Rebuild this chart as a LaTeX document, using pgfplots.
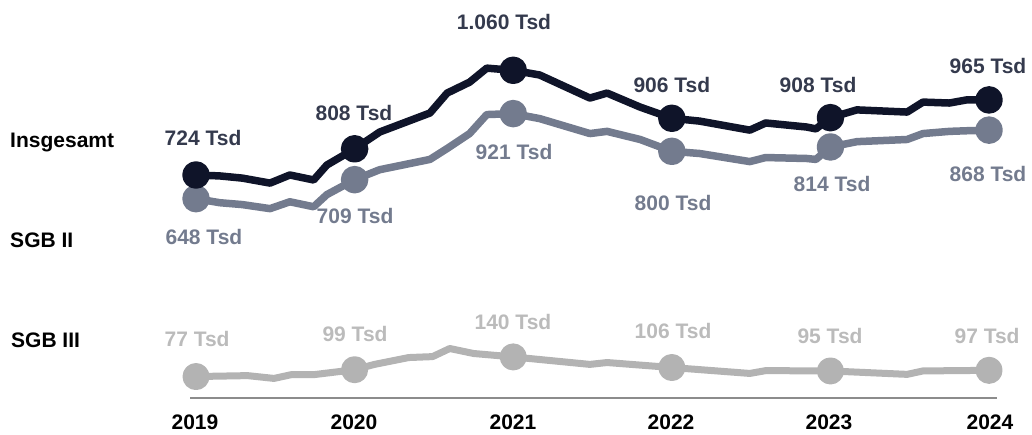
\documentclass[border=0pt]{standalone}
\usepackage{fontspec}
\setmainfont{Liberation Sans}
\usepackage{pgfplots}
\pgfplotsset{compat=1.18}
\definecolor{cTot}{HTML}{0F1429}
\definecolor{cTotTxt}{HTML}{343A4D}
\definecolor{cII}{HTML}{737B8E}
\definecolor{cIII}{HTML}{B3B3B3}
\definecolor{cIIITxt}{HTML}{BBBBBB}
\definecolor{cBase}{HTML}{8C8C8C}
\begin{document}
\begin{tikzpicture}
\begin{axis}[
  scale only axis, width=1032pt, height=435pt,
  xmin=-14.83, xmax=63.25, ymin=-110.6, ymax=1285.75,
  hide axis, clip=false,
  line join=round, line cap=round,
  nodes={font=\fontsize{21}{25}\selectfont\bfseries},
]
\path (rel axis cs:0,0) rectangle (rel axis cs:1,1);
% baseline
\addplot[cBase, line width=2pt, line cap=butt] coordinates {(-0.45,8)(60.6,8)};
% SGB III
\addplot[cIII, line width=7pt, mark=*, mark size=10pt,
  mark indices={1,6,12,15,18,21},
  mark options={fill=cIII, draw=none}] coordinates {
  (0,77)(3.9,80)(5.9,71)(7.2,83)(8.9,83)(12,99)(13.5,116)(16.1,138)
  (17.9,141)(19.2,167)(21.0,151)(24,140)(29.8,116)(31.1,122)(36,106)
  (41.9,87)(43.1,96)(48,95)(53.8,84)(55,95)(60,97)};
% SGB II
\addplot[cII, line width=7.5pt, mark=*, mark size=10pt,
  mark indices={1,8,14,19,25,31},
  mark options={fill=cII, draw=none}] coordinates {
  (0,648)(1.8,635)(3.5,629)(5.6,616)(7.1,638)(8.9,622)(9.9,661)(12,709)
  (13.9,741)(17.7,774)(19,809)(20.7,857)(22,918)(24,921)(26,905)
  (29.8,857)(31.1,864)(33.6,838)(36,800)(38.1,793)(41.9,767)(43.1,780)
  (46.2,777)(46.9,774)(48,814)(50,831)(53.8,838)(55,857)(57,864)
  (58.3,866)(60,868)};
% Insgesamt
\addplot[cTot, line width=7.5pt, mark=*, mark size=10pt,
  mark indices={1,8,14,19,25,31},
  mark options={fill=cTot, draw=none}] coordinates {
  (0,724)(1.8,721)(3.5,714)(5.6,698)(7.1,724)(8.9,708)(9.9,756)(12,808)
  (13.9,862)(17.7,923)(19,987)(20.7,1022)(22,1067)(24,1060)(26,1045)
  (29.8,971)(31.1,987)(33.6,942)(36,906)(38.1,897)(41.9,868)(43.1,891)
  (46.2,878)(46.9,872)(48,908)(50,933)(53.8,926)(55,958)(57,955)
  (58.3,965)(60,965)};
% value labels
\node[cTotTxt] at (axis cs:0.53,843) {724 Tsd};
\node[cTotTxt] at (axis cs:11.95,923) {808 Tsd};
\node[cTotTxt] at (axis cs:23.3,1215) {1.060 Tsd};
\node[cTotTxt] at (axis cs:36.0,1013) {906 Tsd};
\node[cTotTxt] at (axis cs:47.06,1013) {908 Tsd};
\node[cTotTxt] at (axis cs:59.92,1074) {965 Tsd};
\node[cII] at (axis cs:0.6,525) {648 Tsd};
\node[cII] at (axis cs:12.03,592) {709 Tsd};
\node[cII] at (axis cs:24.06,798) {921 Tsd};
\node[cII] at (axis cs:36.09,634) {800 Tsd};
\node[cII] at (axis cs:48.12,695) {814 Tsd};
\node[cII] at (axis cs:59.92,727) {868 Tsd};
\node[cIIITxt] at (axis cs:0.08,199) {77 Tsd};
\node[cIIITxt] at (axis cs:12.03,214) {99 Tsd};
\node[cIIITxt] at (axis cs:23.98,252) {140 Tsd};
\node[cIIITxt] at (axis cs:36.09,223) {106 Tsd};
\node[cIIITxt] at (axis cs:47.97,207) {95 Tsd};
\node[cIIITxt] at (axis cs:59.85,207) {97 Tsd};
% series names
\node[anchor=west, inner sep=0pt, black] at (axis cs:-14.07,827) {Insgesamt};
\node[anchor=west, inner sep=0pt, black] at (axis cs:-14.07,515) {SGB II};
\node[anchor=west, inner sep=0pt, black] at (axis cs:-14.0,194) {SGB III};
% years
\node[black] at (axis cs:-0.08,-69) {2019};
\node[black] at (axis cs:11.95,-69) {2020};
\node[black] at (axis cs:23.98,-69) {2021};
\node[black] at (axis cs:35.94,-69) {2022};
\node[black] at (axis cs:47.89,-69) {2023};
\node[black] at (axis cs:60.07,-69) {2024};
\end{axis}
\end{tikzpicture}
\end{document}
